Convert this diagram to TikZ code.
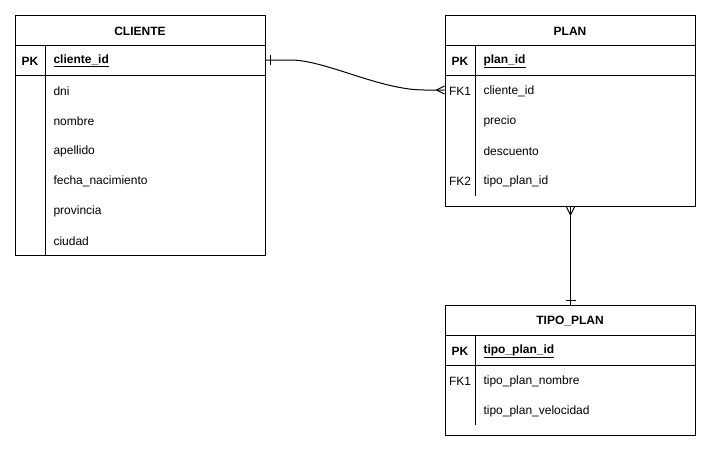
\documentclass[tikz,border=0pt]{standalone}
\usepackage{fontspec}
\setmainfont{Liberation Sans}
\begin{document}
\begin{tikzpicture}[x=1pt,y=-1pt,line width=1pt,
  tbl/.style={draw=black,fill=white,anchor=north west,inner sep=0pt},
  rowbox/.style={inner sep=0pt,minimum width=250pt,minimum height=30pt},
  txt/.style={font=\fontsize{12}{14}\selectfont,inner sep=0pt,yshift=-1pt},
  ttl/.style={txt,font=\fontsize{12}{14}\selectfont\bfseries},
  key/.style={txt,font=\fontsize{12}{14}\selectfont\bfseries},
  tag/.style={txt},
  fld/.style={txt,anchor=west},
  pkf/.style={txt,font=\fontsize{12}{14}\selectfont\bfseries,anchor=west},
  rel/.style={draw=black,line width=1pt}]
\useasboundingbox (0,0) rectangle (711,451);

% ---- CLIENTE ----
\node[tbl,minimum width=250pt,minimum height=240pt] (cliente) at (15,15) {};
\draw (15,45) -- (265,45) (15,75) -- (265,75) (45,45) -- (45,255);
\node[ttl] (cli-t) at (140,30) {CLIENTE};
\node[rowbox] (cli-pk) at (140,60) {};
\node[key] (cli-pkt) at (30,60) {PK};
\node[pkf] (cli-id) at (53,60) {\underline{cliente\_id}};
\node[fld] (cli-f1) at (53,90) {dni};
\node[fld] (cli-f2) at (53,120) {nombre};
\node[fld] (cli-f3) at (53,150) {apellido};
\node[fld] (cli-f4) at (53,180) {fecha\_nacimiento};
\node[fld] (cli-f5) at (53,210) {provincia};
\node[fld] (cli-f6) at (53,240) {ciudad};

% ---- PLAN ----
\node[tbl,minimum width=250pt,minimum height=191pt] (plan) at (445,15) {};
\draw (445,45) -- (695,45) (445,75) -- (695,75) (475,45) -- (475,75) (475,75) -- (475,196);
\node[ttl] (plan-t) at (570,30) {PLAN};
\node[rowbox] (plan-pk) at (570,60) {};
\node[key] (plan-pkt) at (460,60) {PK};
\node[pkf] (plan-id) at (483,60) {\underline{plan\_id}};
\node[rowbox] (plan-r1) at (570,90) {};
\node[tag] (plan-fk1) at (460,90) {FK1};
\node[fld] (plan-f1) at (483,90) {cliente\_id};
\node[fld] (plan-f2) at (483,120) {precio};
\node[fld] (plan-f3) at (483,150) {descuento};
\node[tag] (plan-fk2) at (460,180) {FK2};
\node[fld] (plan-f4) at (483,180) {tipo\_plan\_id};

% ---- TIPO_PLAN ----
\node[tbl,minimum width=250pt,minimum height=130pt] (tipo) at (445,305) {};
\draw (445,335) -- (695,335) (445,365) -- (695,365) (475,335) -- (475,365) (475,365) -- (475,425);
\node[ttl] (tipo-t) at (570,320) {TIPO\_PLAN};
\node[key] (tipo-pkt) at (460,350) {PK};
\node[pkf] (tipo-id) at (483,350) {\underline{tipo\_plan\_id}};
\node[tag] (tipo-fk1) at (460,380) {FK1};
\node[fld] (tipo-f1) at (483,380) {tipo\_plan\_nombre};
\node[fld] (tipo-f2) at (483,410) {tipo\_plan\_velocidad};

% ---- CLIENTE 1 -- N PLAN ----
\draw[rel] (cli-pk.east) -- ++(25,0)
  .. controls +(35,0) and +(-45,0) .. ([shift={(-20,0)}]plan-r1.west)
  -- (plan-r1.west);
\draw[rel] ([shift={(5,-5)}]cli-pk.east) -- ([shift={(5,5)}]cli-pk.east);
\draw[rel] ([shift={(-8,0)}]plan-r1.west) -- ([shift={(0,-4)}]plan-r1.west)
           ([shift={(-8,0)}]plan-r1.west) -- ([shift={(0,4)}]plan-r1.west);

% ---- PLAN N -- 1 TIPO_PLAN ----
\draw[rel] (plan.south) -- (tipo.north);
\draw[rel] ([shift={(0,8)}]plan.south) -- ([shift={(-4,0)}]plan.south)
           ([shift={(0,8)}]plan.south) -- ([shift={(4,0)}]plan.south);
\draw[rel] ([shift={(-5,-5)}]tipo.north) -- ([shift={(5,-5)}]tipo.north);
\end{tikzpicture}
\end{document}
